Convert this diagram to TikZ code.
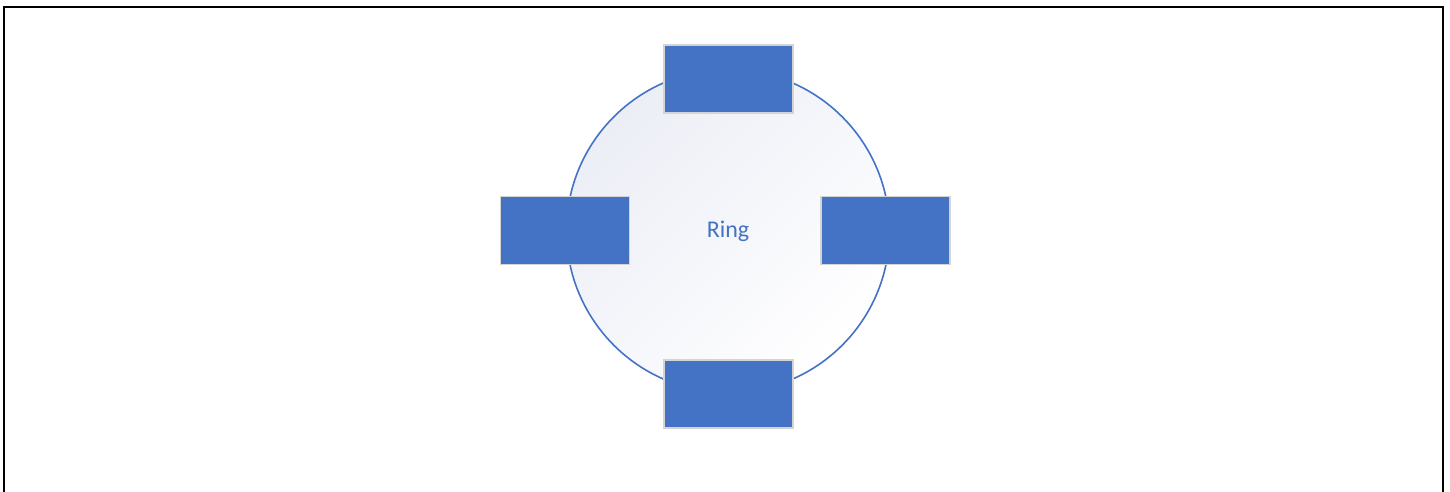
\documentclass[tikz,border=0pt]{standalone}
\usepackage{fontspec}
\setmainfont{Carlito}
\definecolor{accent}{HTML}{4472C4}
\definecolor{lav}{HTML}{ECEEF6}
\definecolor{rectedge}{HTML}{D4D4D4}
\tikzset{
  portbox/.style={rectangle, draw=rectedge, line width=1.2pt, fill=accent,
    minimum width=129pt, minimum height=68pt, inner sep=0pt},
  ringshape/.style={circle, draw=accent, line width=1.6pt, minimum size=323pt,
    inner sep=0pt, top color=lav, bottom color=white, shading angle=45},
  ringlabel/.style={text=accent, font=\fontsize{24}{28}\selectfont, inner sep=0pt}
}
\begin{document}
\begin{tikzpicture}[x=1pt,y=-1pt]
\useasboundingbox (0,0) rectangle (1450,491);
\fill[white] (0,0) rectangle (1450,491);
\draw[line width=2pt] (4,495) -- (4,7) -- (1443,7) -- (1443,495);
\node[ringshape] (ring) at (728,231) {};
\node[ringlabel] (label) at (728,231.5) {Ring};
\node[portbox] (top) at (728.5,79) {};
\node[portbox] (left) at (565,230.5) {};
\node[portbox] (right) at (885.5,230.5) {};
\node[portbox] (bottom) at (728.5,394) {};
\end{tikzpicture}
\end{document}
